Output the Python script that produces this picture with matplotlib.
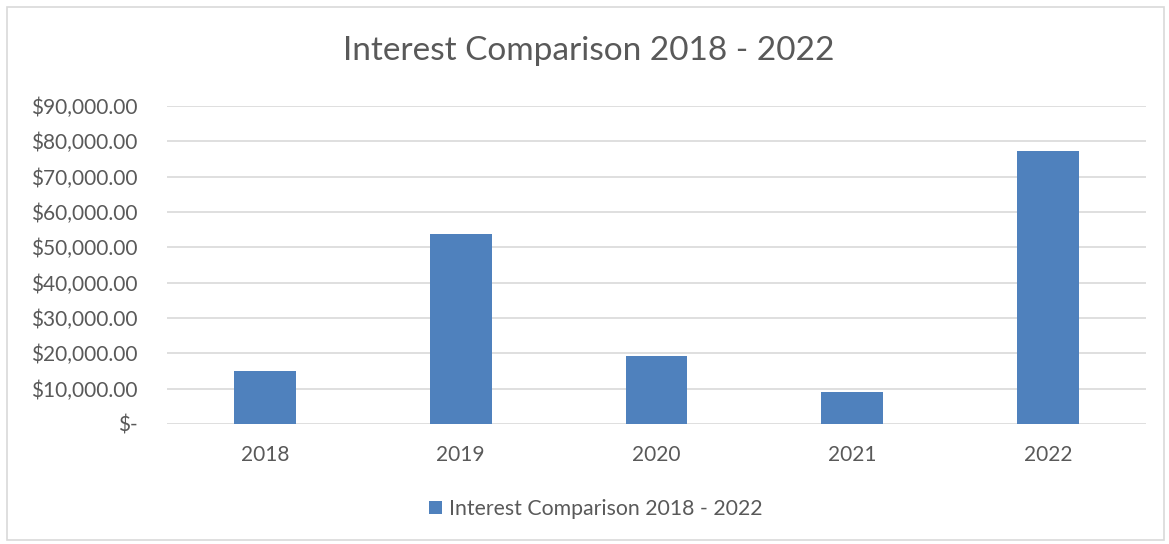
import numpy as np
import matplotlib.pyplot as plt
from matplotlib.patches import Rectangle

# values
years = ['2018', '2019', '2020', '2021', '2022']
interest = [15000, 53800, 19300, 9100, 77200]
yticks = [0, 10000, 20000, 30000, 40000, 50000, 60000, 70000, 80000, 90000]
title = 'Interest Comparison 2018 - 2022'

plt.rcParams['font.family'] = ['Lato', 'DejaVu Sans']
gray = '#595959'

W, H = 1169, 544
fig = plt.figure(figsize=(W / 100, H / 100), dpi=100)
ax = fig.add_axes([167 / W, (H - 424) / H, 979 / W, 318 / H])

# chart border
fig.patches.append(Rectangle((7 / W, 4 / H), 1157 / W, 533 / H, transform=fig.transFigure,
                             fill=False, edgecolor='#d9d9d9', linewidth=1.2))

x = np.arange(len(years))
bars = ax.bar(x, interest, width=0.315, color='#4f81bd', label=title, zorder=3)

ax.set_xlim(-0.5, len(years) - 0.5)
ax.set_ylim(0, 90000)
ax.set_xticks(x)
ax.set_xticklabels(years)
ax.set_yticks(yticks)


def money(v):
    return '$-' if v == 0 else '${:,.2f}'.format(v)


ax.set_yticklabels([money(v) for v in yticks])
ax.tick_params(axis='both', length=0, colors=gray, labelsize=15)
ax.tick_params(axis='x', pad=15)
ax.tick_params(axis='y', pad=21)
ax.grid(axis='y', color='#d9d9d9', linewidth=1.2, zorder=0)
for s in ax.spines.values():
    s.set_visible(False)

fig.text(0.5 + 4 / W, 1 - 51 / H, title, ha='center', va='center', fontsize=24, color=gray)

fig.legend(handles=[bars], labels=[title], loc='center', bbox_to_anchor=(596 / W, 1 - 509 / H),
           frameon=False, fontsize=15.3, labelcolor=gray, handlelength=0.6, handleheight=0.6,
           handletextpad=0.35)

fig.savefig('out.png', dpi=100, facecolor='white')
